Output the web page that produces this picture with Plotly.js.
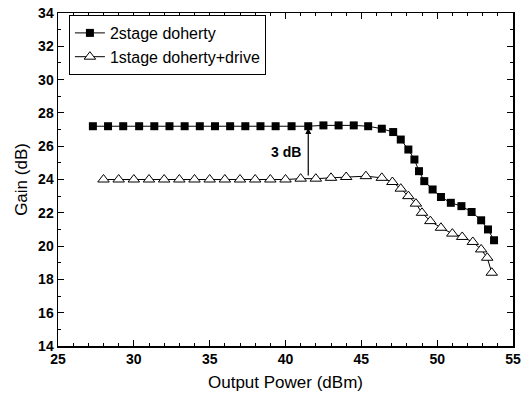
<!DOCTYPE html>
<html>
<head>
<meta charset="utf-8">
<script src="https://cdn.plot.ly/plotly-3.0.1.min.js"></script>
<style>html,body{margin:0;padding:0;background:#fff;}#chart{width:528px;height:401px;}</style>
</head>
<body>
<div id="chart"></div>
<script>
// 2stage doherty
const pout2 = [27.3, 28.3, 29.3, 30.35, 31.35, 32.35, 33.35, 34.35, 35.35, 36.35, 37.35, 38.35, 39.35, 40.4, 41.5, 42.5, 43.5, 44.5, 45.45, 46.35, 47.1, 47.6, 48.1, 48.5, 48.8, 49.15, 49.7, 50.25, 50.9, 51.6, 52.27, 52.9, 53.35, 53.75];
const gain2 = [27.2, 27.2, 27.2, 27.2, 27.2, 27.2, 27.2, 27.2, 27.2, 27.2, 27.2, 27.2, 27.2, 27.2, 27.2, 27.25, 27.25, 27.25, 27.2, 27.05, 26.85, 26.4, 25.8, 25.2, 24.5, 23.9, 23.4, 22.95, 22.6, 22.4, 22.05, 21.55, 21.0, 20.35];
// 1stage doherty+drive
const pout1 = [28.0, 29.0, 30.0, 31.0, 32.0, 33.0, 34.0, 35.0, 36.0, 37.0, 38.0, 39.0, 40.0, 41.0, 42.0, 43.0, 44.0, 45.3, 46.35, 47.05, 47.6, 48.1, 48.6, 49.0, 49.55, 50.25, 51.0, 51.65, 52.35, 52.9, 53.3, 53.6];
const gain1 = [24.0, 24.0, 24.0, 24.0, 24.0, 24.0, 24.0, 24.0, 24.0, 24.0, 24.0, 24.0, 24.0, 24.05, 24.05, 24.1, 24.15, 24.2, 24.1, 23.85, 23.45, 23.0, 22.55, 22.0, 21.5, 21.1, 20.75, 20.55, 20.25, 19.8, 19.3, 18.4];
const seriesNames = ["2stage doherty", "1stage doherty+drive"];
const arrowX = 41.5, arrowTop = 27.1, arrowBottom = 24.15;
const arrowLabel = "3 dB";

const font = "Liberation Sans, Arial, sans-serif";

const traces = [
  {
    x: pout2, y: gain2, name: seriesNames[0], type: "scatter", mode: "lines+markers",
    line: {color: "#000", width: 1},
    marker: {symbol: "square", size: 8, color: "#000", line: {color: "#000", width: 0}}
  },
  {
    x: pout1, y: gain1, name: seriesNames[1], type: "scatter", mode: "lines+markers",
    line: {color: "#000", width: 1},
    marker: {symbol: "triangle-up", size: 10, color: "#fff", line: {color: "#000", width: 1}}
  }
];

const axisCommon = {
  showline: true, linecolor: "#000", linewidth: 1.5, mirror: "allticks",
  ticks: "inside", ticklen: 6, tickwidth: 1, tickcolor: "#000",
  showgrid: false, zeroline: false,
  tickfont: {family: font, size: 14, color: "#000", weight: "bold"}
};

const layout = {
  width: 528, height: 401,
  margin: {l: 58, r: 15, t: 13, b: 55},
  paper_bgcolor: "#fff", plot_bgcolor: "#fff",
  font: {family: font, color: "#000"},
  showlegend: true,
  legend: {
    x: 0.024, y: 0.994, xanchor: "left", yanchor: "top",
    bordercolor: "#000", borderwidth: 1, bgcolor: "#fff",
    font: {family: font, size: 16, color: "#000"},
    tracegroupgap: 0, itemwidth: 30
  },
  xaxis: Object.assign({}, axisCommon, {
    range: [25, 55], dtick: 5, tick0: 25,
    minor: {dtick: 1, ticks: "inside", ticklen: 3, tickcolor: "#000", tickwidth: 1},
    title: {text: "Output Power (dBm)", font: {family: font, size: 17, color: "#000"}, standoff: 10}
  }),
  yaxis: Object.assign({}, axisCommon, {
    range: [14, 34], dtick: 2, tick0: 14,
    minor: {dtick: 1, ticks: "inside", ticklen: 3, tickcolor: "#000", tickwidth: 1},
    title: {text: "Gain (dB)", font: {family: font, size: 17, color: "#000"}, standoff: 6}
  }),
  annotations: [
    {
      x: arrowX, y: arrowTop, ax: arrowX, ay: arrowBottom,
      xref: "x", yref: "y", axref: "x", ayref: "y",
      showarrow: true, arrowhead: 2, arrowsize: 1, arrowwidth: 1.2, arrowcolor: "#000",
      text: ""
    },
    {
      x: arrowX - 0.35, y: 25.65, xref: "x", yref: "y", xanchor: "right",
      text: arrowLabel, showarrow: false,
      font: {family: font, size: 14, color: "#000", weight: "bold"}
    }
  ]
};

Plotly.newPlot("chart", traces, layout, {staticPlot: true, displayModeBar: false});
</script>
</body>
</html>
